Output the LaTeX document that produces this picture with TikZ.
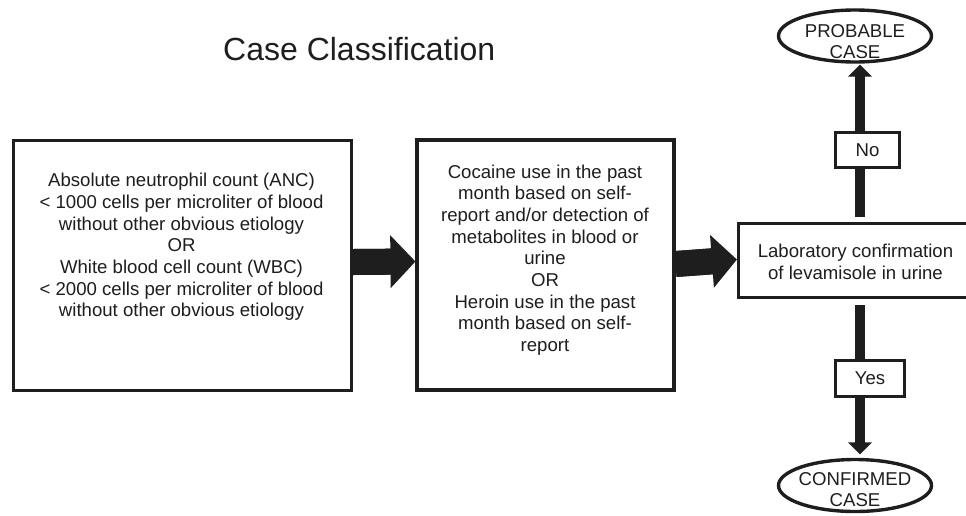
\documentclass[tikz,border=0pt]{standalone}
\usepackage{fontspec}
\setmainfont{Liberation Sans}
\usetikzlibrary{arrows.meta,shapes.geometric,calc}
\definecolor{ink}{HTML}{1E1E1E}
\begin{document}
\begin{tikzpicture}[x=1pt,y=-1pt,
  box/.style={draw=ink,line width=3.2pt,fill=white,inner sep=0pt},
  txt/.style={text=ink,align=center,font=\fontsize{18.6}{21.7}\selectfont,inner sep=0pt},
  oval/.style={ellipse,draw=ink,line width=3.4pt,inner sep=0pt,minimum width=153pt,minimum height=52pt},
  fatarrow/.style={draw=ink,line width=26pt,-{Triangle[length=25pt,width=53pt,line width=0pt]},
    postaction={draw=ink,line width=26pt,-,shorten >=22pt}},
  slimarrow/.style={draw=ink,line width=10.5pt,-{Triangle[length=12pt,width=24pt,line width=0pt]},
    postaction={draw=ink,line width=10.5pt,-,shorten >=10pt}}]
\clip (0,0) rectangle (966,515);
% title
\node[text=ink,font=\fontsize{32}{38}\selectfont,anchor=base west,inner sep=0pt] (title) at (223,60) {Case Classification};
% main boxes
\node[box,minimum width=338pt,minimum height=250pt] (b1) at (182.5,265.5) {};
\node[txt] (b1t) at (181.5,247) {Absolute neutrophil count (ANC)\\
  {<} 1000 cells per microliter of blood\\
  without other obvious etiology\\
  OR\\
  White blood cell count (WBC)\\
  {<} 2000 cells per microliter of blood\\
  without other obvious etiology};
\node[box,minimum width=257pt,minimum height=250pt] (b2) at (545.5,265) {};
\node[txt] (b2t) at (545,260) {Cocaine use in the past\\
  month based on self-\\
  report and/or detection of\\
  metabolites in blood or\\
  urine\\
  OR\\
  Heroin use in the past\\
  month based on self-\\
  report};
\node[box,minimum width=231pt,minimum height=74pt] (b3) at (854,260.5) {};
\node[txt] (b3t) at (855.5,261.5) {Laboratory confirmation\\of levamisole in urine};
% outcome ovals
\node[oval] (prob) at (855,36) {};
\node[txt,font=\fontsize{18.6}{21}\selectfont] (probt) at (855,41.5) {PROBABLE\\CASE};
\node[oval] (conf) at (855,485.5) {};
\node[txt,font=\fontsize{18.6}{21}\selectfont] (conft) at (855,490) {CONFIRMED\\CASE};
% connectors
\draw[fatarrow] ([yshift=3.5pt]b1.east) -- ([yshift=3.5pt]b2.west);
\draw[fatarrow] ([yshift=1pt]b2.east) -- ([yshift=1pt]b3.west);
\draw[slimarrow] ($(b3.north -| prob.south)+(5,-5)$) -- ($(prob.south)+(5,1)$);
\draw[slimarrow] ($(b3.south -| conf.north)+(5,6)$) -- ($(conf.north)+(5,-3.5)$);
% decision labels
\node[box,txt,minimum width=64pt,minimum height=35pt,draw=ink,fill=white,line width=3.2pt] (no) at (867.5,150) {No};
\node[box,txt,minimum width=69pt,minimum height=36pt,draw=ink,fill=white,line width=3.2pt] (yes) at (870,378.5) {Yes};
\end{tikzpicture}
\end{document}
